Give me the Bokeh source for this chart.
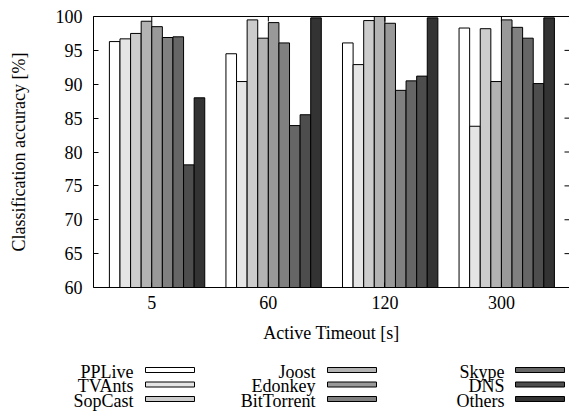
import numpy as np
from bokeh.plotting import figure
from bokeh.models import Range1d, LinearAxis, FixedTicker, ColumnDataSource
from bokeh.layouts import column
from bokeh.core.properties import value
from bokeh.embed import file_html
from bokeh.resources import INLINE

# ---- data ----
timeouts = ["5", "60", "120", "300"]
apps = ["PPLive", "TVAnts", "SopCast", "Joost", "Edonkey", "BitTorrent", "Skype", "DNS", "Others"]
colors = ["#ffffff", "#e5e5e5", "#cccccc", "#b3b3b3", "#999999", "#808080", "#666666", "#4d4d4d", "#333333"]
pplive = [96.3, 94.5, 96.1, 98.3]
tvants = [96.7, 90.4, 92.9, 83.8]
sopcast = [97.5, 99.5, 99.4, 98.2]
joost = [99.3, 96.8, 100.0, 90.4]
edonkey = [98.5, 99.1, 99.0, 99.5]
bittorrent = [96.9, 96.1, 89.1, 98.4]
skype = [97.0, 83.9, 90.5, 96.8]
dns = [78.1, 85.5, 91.2, 90.1]
others = [88.0, 99.8, 99.8, 99.8]
series = [pplive, tvants, sopcast, joost, edonkey, bittorrent, skype, dns, others]
y_ticks = [60, 65, 70, 75, 80, 85, 90, 95, 100]

FONT = "Liberation Serif"
FS = "18px"
LFS = "18px"
nser = len(apps)
slot = 1.0 / (nser + 2)
groups = np.arange(len(timeouts))

W = 569
H_MAIN = 351
H_LEG = 412 - H_MAIN

p = figure(width=W, height=H_MAIN, x_range=Range1d(-0.5, 3.584), y_range=Range1d(60, 100),
           min_border_left=93, min_border_right=0, min_border_top=16, min_border_bottom=64,
           toolbar_location=None, output_backend="svg",
           x_axis_location=None, y_axis_location=None)
p.outline_line_color = None
p.xgrid.visible = False
p.ygrid.visible = False
p.background_fill_color = "white"
p.border_fill_color = "white"

for j, (name, vals, col) in enumerate(zip(apps, series, colors)):
    src = ColumnDataSource(dict(x=groups + (j - (nser - 1) / 2 + 0.5) * slot, top=vals))
    p.vbar(x="x", top="top", bottom=60, width=slot, source=src,
           fill_color=col, line_color="black", line_width=1)

# mirrored inward ticks on top and right
p.ray(x=groups, y=[100] * len(groups), length=5, length_units="screen", angle=-np.pi / 2,
      line_color="black", line_width=1)
p.ray(x=[p.x_range.end] * len(y_ticks), y=y_ticks, length=5, length_units="screen", angle=np.pi,
      line_color="black", line_width=1)

def style_axis(ax):
    ax.axis_line_color = "black"
    ax.axis_line_width = 1
    ax.major_tick_in = 5
    ax.major_tick_out = 0
    ax.major_tick_line_color = "black"
    ax.minor_tick_line_color = None
    ax.major_label_text_font = FONT
    ax.major_label_text_font_size = FS
    ax.major_label_text_color = "black"
    ax.axis_label_text_font = FONT
    ax.axis_label_text_font_size = FS
    ax.axis_label_text_font_style = "normal"
    ax.axis_label_text_color = "black"

xb = LinearAxis(ticker=FixedTicker(ticks=list(groups)),
                major_label_overrides={int(i): t for i, t in zip(groups, timeouts)},
                axis_label="Active Timeout [s]")
style_axis(xb)
xb.major_label_standoff = 8
xb.axis_label_standoff = 11
p.add_layout(xb, "below")

xt = LinearAxis(ticker=FixedTicker(ticks=[]))
style_axis(xt)
xt.major_label_standoff = 0
p.add_layout(xt, "above")

yl = LinearAxis(ticker=FixedTicker(ticks=y_ticks), axis_label="Classification accuracy [%]")
style_axis(yl)
yl.major_label_standoff = 11
yl.axis_label_standoff = 24
p.add_layout(yl, "left")

# ---- legend (label, then swatch), page-pixel coordinates ----
lg = figure(width=W, height=H_LEG, x_range=Range1d(0, W), y_range=Range1d(H_LEG, 0),
            min_border=0, min_border_left=0, min_border_right=0, min_border_top=0, min_border_bottom=0,
            toolbar_location=None, output_backend="svg",
            x_axis_location=None, y_axis_location=None)
lg.frame_align = False
lg.outline_line_color = None
lg.xgrid.visible = False
lg.ygrid.visible = False
col_text_x = [133, 315, 504]
col_sw_x = [145, 327, 515]
row_base = [371 - H_MAIN, 385.5 - H_MAIN, 400 - H_MAIN]
sw_w, sw_h = 49, 5
idx = np.arange(nser)
lsrc = ColumnDataSource(dict(
    name=apps, color=colors,
    tx=[col_text_x[i // 3] for i in idx],
    sx=[col_sw_x[i // 3] + sw_w / 2 for i in idx],
    ty=[row_base[i % 3] for i in idx],
    sy=[row_base[i % 3] - 1.5 for i in idx]))
lg.text(x="tx", y="ty", text="name", source=lsrc, text_align="right", text_baseline="alphabetic",
        text_font=value(FONT), text_font_size=LFS, text_color="black")
lg.rect(x="sx", y="sy", width=sw_w, height=sw_h, source=lsrc, fill_color="color",
        line_color="black", line_width=1)

layout = column(p, lg, spacing=0)
open("out.html", "w").write(file_html(layout, INLINE))
